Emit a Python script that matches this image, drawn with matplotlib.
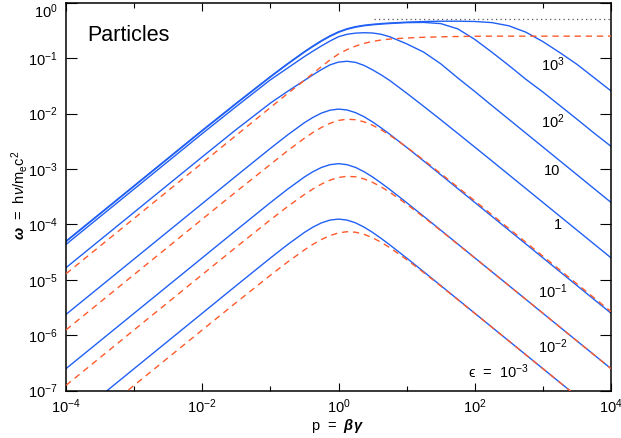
import numpy as np
import matplotlib.pyplot as plt
from matplotlib.ticker import FixedLocator, NullFormatter, LogFormatterMathtext

plt.rcParams['font.family'] = 'Liberation Sans'
plt.rcParams['mathtext.fontset'] = 'custom'
plt.rcParams['mathtext.rm'] = 'Liberation Sans'
plt.rcParams['mathtext.it'] = 'Liberation Sans:italic'
plt.rcParams['mathtext.bf'] = 'Liberation Sans:bold'
plt.rcParams['mathtext.bfit'] = 'Liberation Sans:bold:italic'

# sample points in log10(p)
logp = [-4, -3, -2, -1.5, -1, -0.75, -0.5, -0.375, -0.25, -0.125, 0, 0.125, 0.25,
        0.375, 0.5, 0.625, 0.75, 1, 1.25, 1.5, 1.75, 2, 2.25, 2.5, 2.75, 3, 3.25,
        3.5, 3.75, 4]

# log10(omega), solid curves, eps = 1e3 ... 1e-3
solid_1e3 = [-4.30, -3.30, -2.30, -1.81, -1.33, -1.10, -0.88, -0.778, -0.682, -0.596,
             -0.523, -0.468, -0.43, -0.405, -0.388, -0.375, -0.365, -0.349, -0.338, -0.332,
             -0.332, -0.337, -0.357, -0.415, -0.53, -0.70, -0.90, -1.11, -1.35, -1.59]
solid_1e2 = [-4.31, -3.31, -2.31, -1.82, -1.34, -1.11, -0.89, -0.788, -0.692, -0.606,
             -0.533, -0.478, -0.44, -0.414, -0.397, -0.384, -0.374, -0.358, -0.354, -0.375,
             -0.47, -0.66, -0.89, -1.13, -1.38, -1.61, -1.855, -2.10, -2.35, -2.59]
solid_1e1 = [-4.36, -3.36, -2.36, -1.87, -1.39, -1.18, -0.97, -0.872, -0.778, -0.69,
             -0.612, -0.568, -0.547, -0.54, -0.545, -0.568, -0.612, -0.74, -0.89, -1.10,
             -1.355, -1.60, -1.853, -2.102, -2.352, -2.602, -2.852, -3.102, -3.352, -3.602]
solid_1e0 = [-4.78, -3.78, -2.78, -2.285, -1.81, -1.60, -1.40, -1.30, -1.205, -1.12,
             -1.07, -1.055, -1.075, -1.13, -1.21, -1.30, -1.40, -1.63, -1.868, -2.11,
             -2.356, -2.604, -2.852, -3.102, -3.352, -3.602, -3.852, -4.102, -4.352, -4.602]
solid_1em1 = [-5.623, -4.623, -3.623, -3.123, -2.627, -2.387, -2.163, -2.068, -1.990, -1.938,
              -1.918, -1.934, -1.982, -2.056, -2.150, -2.256, -2.370, -2.608, -2.854, -3.102,
              -3.352, -3.602, -3.852, -4.102, -4.352, -4.602, -4.852, -5.102, -5.352, -5.602]
solid_1em2 = [-6.602, -5.602, -4.602, -4.102, -3.606, -3.366, -3.143, -3.048, -2.971, -2.921,
              -2.903, -2.921, -2.971, -3.048, -3.143, -3.251, -3.366, -3.606, -3.853, -4.102,
              -4.352, -4.602, -4.852, -5.102, -5.352, -5.602, -5.852, -6.102, -6.352, -6.602]
solid_1em3 = [-7.602, -6.602, -5.602, -5.102, -4.606, -4.366, -4.143, -4.048, -3.971, -3.921,
              -3.903, -3.921, -3.971, -4.048, -4.143, -4.251, -4.366, -4.606, -4.853, -5.102,
              -5.352, -5.602, -5.852, -6.102, -6.352, -6.602, -6.852, -7.102, -7.352, -7.602]

# log10(omega), dashed curves, eps = 1 ... 1e-3
dashed_1e0 = [-4.89, -3.89, -2.89, -2.39, -1.89, -1.64, -1.40, -1.275, -1.15, -1.03,
              -0.925, -0.845, -0.782, -0.732, -0.697, -0.672, -0.655, -0.635, -0.622, -0.614,
              -0.608, -0.604, -0.602, -0.602, -0.602, -0.602, -0.602, -0.602, -0.602, -0.602]
dashed_1em1 = [-5.903, -4.903, -3.904, -3.407, -2.917, -2.672, -2.444, -2.340, -2.249, -2.175,
               -2.122, -2.101, -2.110, -2.148, -2.210, -2.291, -2.387, -2.603, -2.838, -3.080,
               -3.327, -3.574, -3.823, -4.072, -4.322, -4.572, -4.822, -5.072, -5.322, -5.572]
dashed_1em2 = [-6.903, -5.903, -4.904, -4.407, -3.917, -3.680, -3.459, -3.359, -3.271, -3.201,
               -3.152, -3.131, -3.140, -3.178, -3.240, -3.321, -3.417, -3.633, -3.868, -4.110,
               -4.357, -4.604, -4.853, -5.102, -5.352, -5.602, -5.852, -6.102, -6.352, -6.602]
dashed_1em3 = [-7.903, -6.903, -5.904, -5.407, -4.917, -4.680, -4.459, -4.359, -4.271, -4.201,
               -4.152, -4.131, -4.140, -4.178, -4.240, -4.321, -4.417, -4.633, -4.868, -5.110,
               -5.357, -5.604, -5.853, -6.102, -6.352, -6.602, -6.852, -7.102, -7.352, -7.602]

# saturation level
omega_max = 0.5
p_sat = [3.3, 1e4]

# curve labels: text, p, omega
labels = [("$10^3$", 1410, 0.0752),
          ("$10^2$", 1410, 7.05e-3),
          ("10", 1360, 9.2e-4),
          ("1", 1670, 9.8e-5),
          ("$10^{-1}$", 1410, 6.0e-6),
          ("$10^{-2}$", 1410, 6.2e-7),
          ("\u03f5  =  $10^{-3}$", 220, 2.18e-7)]

blue = "#2160f4"
red = "#ff5a2a"

p = 10.0 ** np.array(logp)

fig = plt.figure(figsize=(6.21, 4.38), dpi=100)
ax = fig.add_axes([0.1063, 0.108, 0.8776, 0.8856])

ax.plot(p_sat, [omega_max, omega_max], color="#555555", lw=0.9, ls=(0, (1, 2.6)), zorder=1)

for vals in [solid_1e3, solid_1e2, solid_1e1, solid_1e0, solid_1em1, solid_1em2, solid_1em3]:
    ax.plot(p, 10.0 ** np.array(vals), color=blue, lw=1.0, zorder=2)

for vals in [dashed_1e0, dashed_1em1, dashed_1em2, dashed_1em3]:
    ax.plot(p, 10.0 ** np.array(vals), color=red, lw=1.0, dashes=(4.5, 3.5), zorder=3)

ax.set_xscale("log")
ax.set_yscale("log")
ax.set_xlim(1e-4, 1e4)
ax.set_ylim(1e-7, 1)

ax.xaxis.set_major_locator(FixedLocator([1e-4, 1e-2, 1, 1e2, 1e4]))
ax.xaxis.set_minor_locator(FixedLocator([1e-3, 1e-1, 10, 1e3]))
ax.xaxis.set_major_formatter(LogFormatterMathtext())
ax.xaxis.set_minor_formatter(NullFormatter())
ax.yaxis.set_major_locator(FixedLocator([10.0 ** k for k in range(-7, 1)]))
ax.yaxis.set_minor_locator(FixedLocator([]))
ax.yaxis.set_major_formatter(LogFormatterMathtext())

ax.tick_params(which="both", direction="in", top=True, right=True, width=0.8, labelsize=10.5)
ax.tick_params(axis="x", which="major", length=5.8, pad=5)
ax.tick_params(axis="x", which="minor", length=3.4)
ax.tick_params(axis="y", which="major", length=7.6, pad=6)
for s in ax.spines.values():
    s.set_linewidth(1.1)

# keep the top y label inside the figure
ax.yaxis.get_major_ticks()[-1].label1.set_verticalalignment("top")

for txt, x, y in labels:
    ax.text(x, y, txt, fontsize=10.5, ha="center", va="center")

ax.text(2.05e-4, 0.258, "Particles", fontsize=15.5, ha="left", va="center")

fig.text(0.544, 0.028, r"p  =  $\boldsymbol{\beta\gamma}$", fontsize=10.5, ha="center", va="center")
fig.text(0.032, 0.555, r"$\boldsymbol{\omega}$  =  h$\nu$/m$_{\rm e}$c$^2$", fontsize=10.5,
         ha="center", va="center", rotation=90)

fig.savefig("out.png", dpi=100)
